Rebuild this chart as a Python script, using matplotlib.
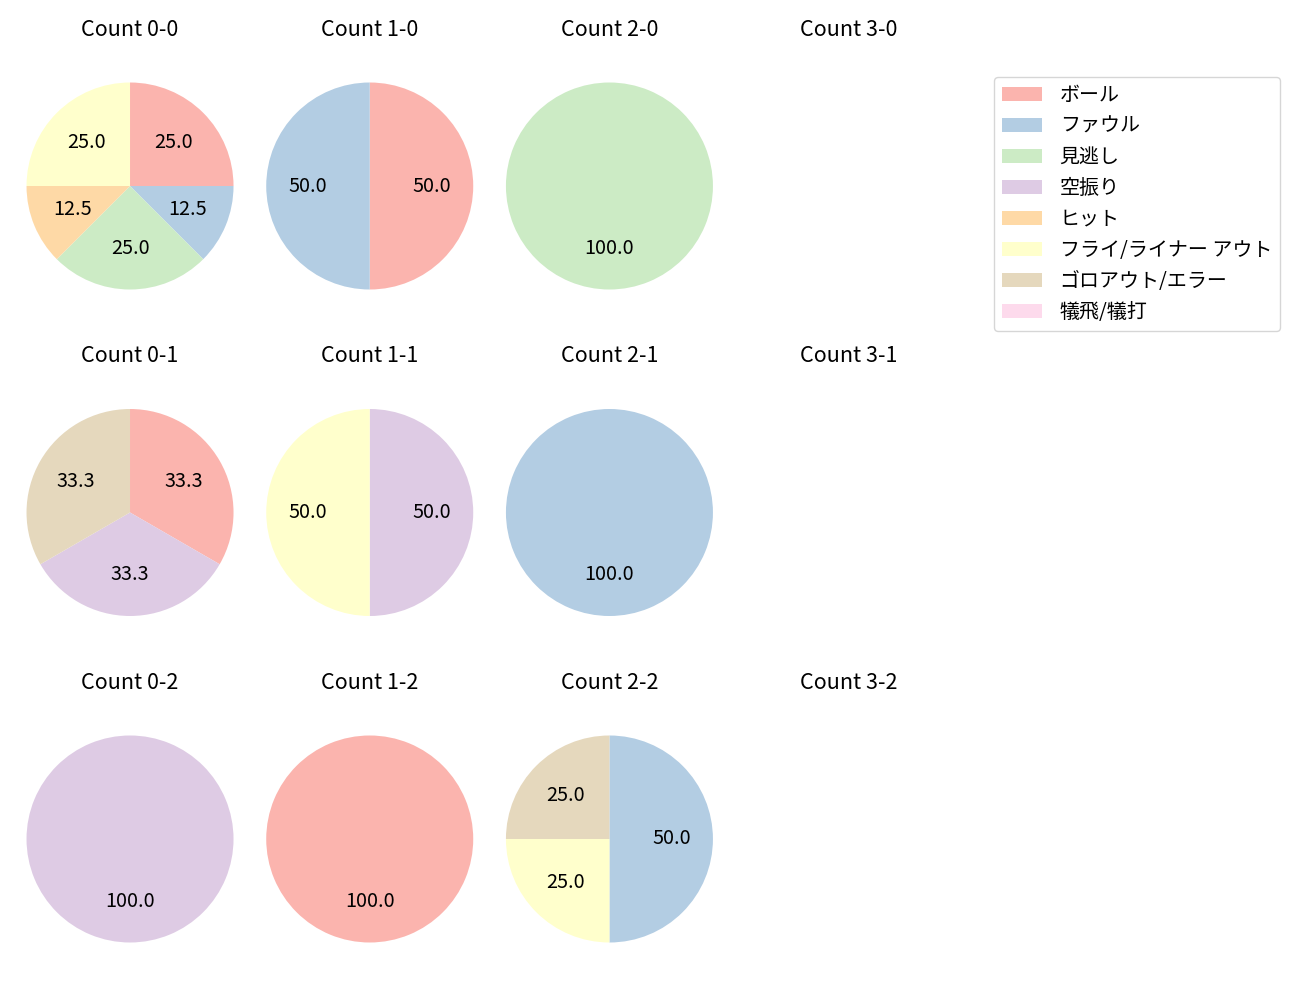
import matplotlib
matplotlib.use('Agg')
import matplotlib.pyplot as plt
from matplotlib.patches import Patch

plt.rcParams['font.family'] = ['Noto Sans CJK JP', 'DejaVu Sans']

labels = ['ボール', 'ファウル', '見逃し', '空振り', 'ヒット',
          'フライ/ライナー アウト', 'ゴロアウト/エラー', '犠飛/犠打']
colors = ['#fbb4ae', '#b3cde3', '#ccebc5', '#decbe4', '#fed9a6',
          '#ffffcc', '#e5d8bd', '#fddaec']

strikes = [0, 1, 2]
balls = [0, 1, 2, 3]

# pitch results per count (balls-strikes), in label order
counts = {
    '0-0': [2, 1, 2, 0, 1, 2, 0, 0],
    '1-0': [1, 1, 0, 0, 0, 0, 0, 0],
    '2-0': [0, 0, 1, 0, 0, 0, 0, 0],
    '3-0': [0, 0, 0, 0, 0, 0, 0, 0],
    '0-1': [1, 0, 0, 1, 0, 0, 1, 0],
    '1-1': [0, 0, 0, 1, 0, 1, 0, 0],
    '2-1': [0, 1, 0, 0, 0, 0, 0, 0],
    '3-1': [0, 0, 0, 0, 0, 0, 0, 0],
    '0-2': [0, 0, 0, 1, 0, 0, 0, 0],
    '1-2': [1, 0, 0, 0, 0, 0, 0, 0],
    '2-2': [0, 2, 0, 0, 0, 1, 1, 0],
    '3-2': [0, 0, 0, 0, 0, 0, 0, 0],
}

fig, axes = plt.subplots(3, 4, figsize=(13, 10), dpi=100)
fig.subplots_adjust(left=0.0204, right=0.7328, top=0.956, bottom=0.019,
                    wspace=0.158, hspace=0.1496)

for i, s in enumerate(strikes):
    for j, b in enumerate(balls):
        ax = axes[i, j]
        key = f'{b}-{s}'
        vals = counts[key]
        v = [x for x in vals if x > 0]
        c = [colors[k] for k, x in enumerate(vals) if x > 0]
        if v:
            ax.pie(v, colors=c, autopct='%.1f', startangle=90,
                   counterclock=False, textprops={'fontsize': 14.3})
        ax.set_xlim(-1.0, 1.0)
        ax.set_ylim(-1.0, 1.0)
        ax.set_aspect('equal', adjustable='datalim')
        ax.axis('off')
        ax.set_title(f'Count {key}', fontsize=15.5)

handles = [Patch(facecolor=colors[k], label=labels[k]) for k in range(len(labels))]
fig.legend(handles=handles, loc='upper right', bbox_to_anchor=(1280 / 1300, 1 - 77 / 1000),
           borderaxespad=0, fontsize=14.4, handletextpad=0.9)

fig.savefig('out.png', dpi=100)
